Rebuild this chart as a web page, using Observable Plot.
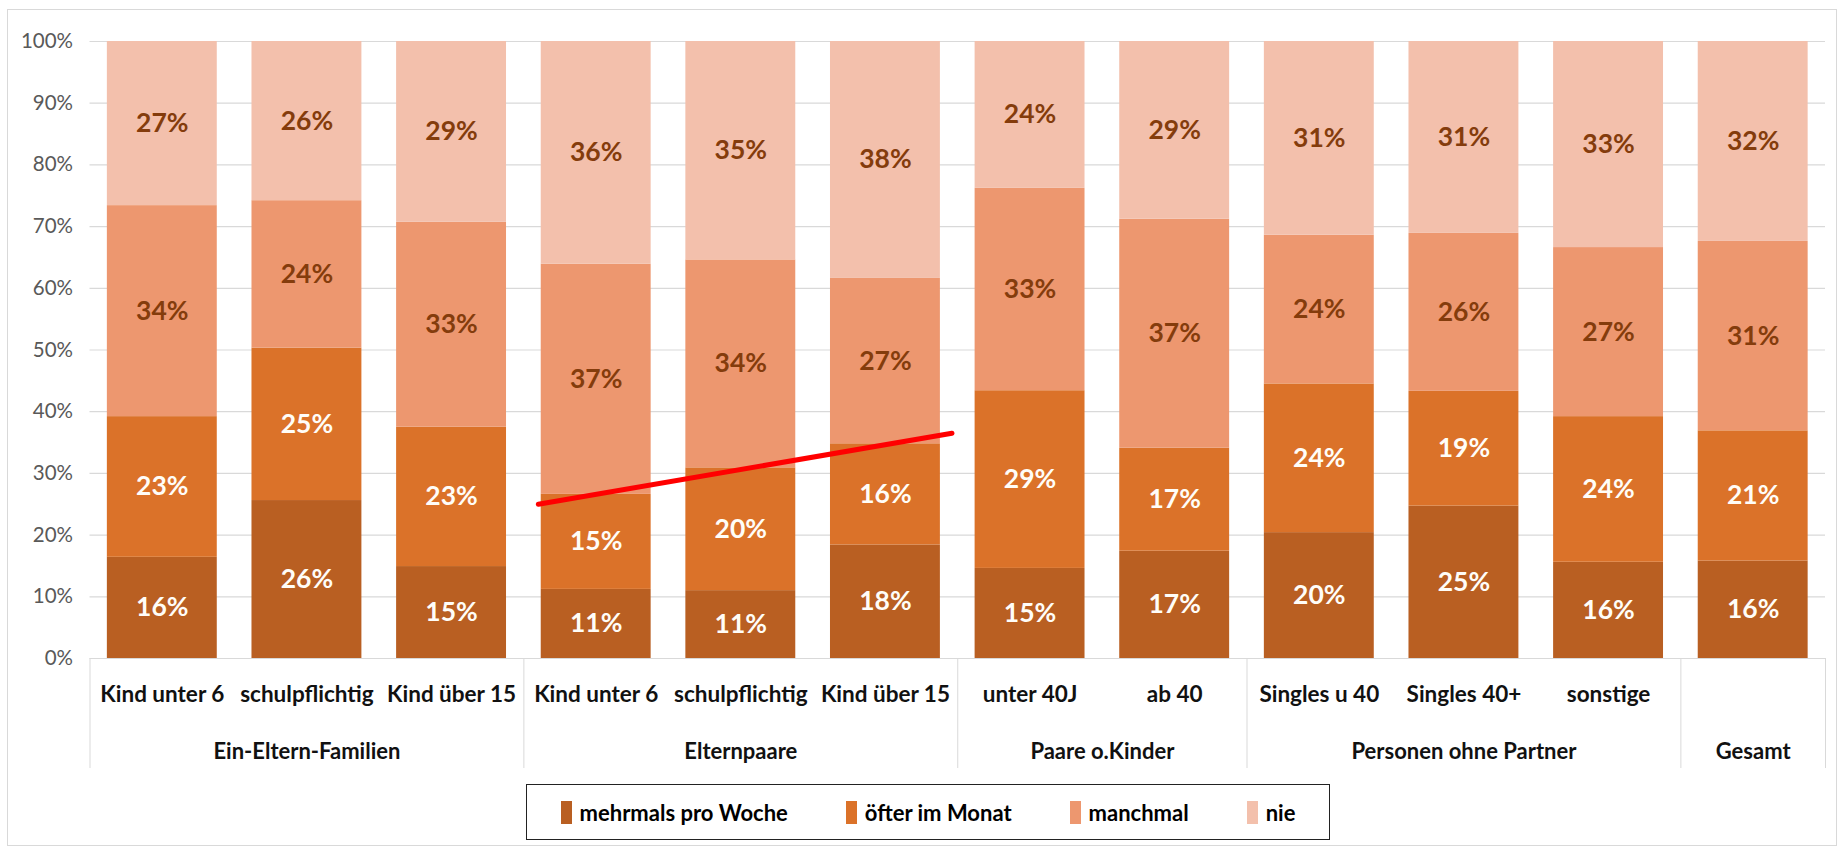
<!DOCTYPE html>
<html>
<head>
<meta charset="utf-8">
<script src="https://cdn.jsdelivr.net/npm/d3@7"></script>
<script src="https://cdn.jsdelivr.net/npm/@observablehq/plot@0.6"></script>
<style>
  body { margin: 0; background: #fff; font-family: Lato, "Open Sans", sans-serif; }
  #frame { position: absolute; left: 7px; top: 9px; width: 1830px; height: 837px; border: 1px solid #d9d9d9; box-sizing: border-box; }
  #chart { position: absolute; left: 0; top: 0; }
  #legend { position: absolute; left: 526px; top: 784px; width: 804px; height: 56px; border: 1.5px solid #222; box-sizing: border-box;
            display: flex; align-items: center; justify-content: center; gap: 0; font-size: 22px; font-weight: 700; color: #000; }
  .item { display: flex; align-items: center; margin: 0 29px; }
  .sw { width: 11px; height: 23px; margin-right: 8px; }
</style>
</head>
<body>
<div id="frame"></div>
<div id="chart"></div>
<div id="legend"></div>
<script>
// ---- data ----
const groups = ["Ein-Eltern-Familien", "Elternpaare", "Paare o.Kinder", "Personen ohne Partner", "Gesamt"];
const categories = ["Kind unter 6", "schulpflichtig", "Kind über 15", "Kind unter 6", "schulpflichtig", "Kind über 15",
                    "unter 40J", "ab 40", "Singles u 40", "Singles 40+", "sonstige", ""];
const categoryGroup = [0, 0, 0, 1, 1, 1, 2, 2, 3, 3, 3, 4];
const series = ["mehrmals pro Woche", "öfter im Monat", "manchmal", "nie"];
const mehrmals = [16.4, 25.6, 14.9, 11.2, 11.0, 18.4, 14.6, 17.4, 20.4, 24.7, 15.6, 15.8];
const oefter   = [22.8, 24.7, 22.6, 15.4, 19.9, 16.4, 28.8, 16.7, 24.1, 18.6, 23.6, 21.1];
const manchmal = [34.2, 23.9, 33.2, 37.3, 33.7, 26.8, 32.8, 37.1, 24.1, 25.6, 27.4, 30.7];
const nie      = [26.6, 25.8, 29.3, 36.1, 35.4, 38.4, 23.8, 28.8, 31.4, 31.1, 33.4, 32.4];
const yTicks = [0, 10, 20, 30, 40, 50, 60, 70, 80, 90, 100];
// red annotation line (category index position, percent)
const redLineX = [2.60, 5.46];
const redLineY = [25.0, 36.5];

// ---- styles ----
const colors = ["#b95f22", "#db7229", "#ed976f", "#f3c0ac"];
const BAR_HALF = 0.38;
const FONT = "Lato, 'Open Sans', sans-serif";

// ---- build table ----
const seriesValues = [mehrmals, oefter, manchmal, nie];
const rows = [];
categories.forEach((c, i) => {
  let acc = 0;
  seriesValues.forEach((vals, s) => {
    const v = vals[i];
    rows.push({i, s, series: series[s], value: v, y1: acc, y2: acc + v});
    acc += v;
  });
});
const catIdx = categories.map((c, i) => i);
const groupIdx = groups.map((g, k) => k);
const groupCenter = k => d3.mean(catIdx.filter(i => categoryGroup[i] === k));
const boundaries = [-0.5];
catIdx.forEach(i => { if (i === catIdx.length - 1 || categoryGroup[i + 1] !== categoryGroup[i]) boundaries.push(i + 0.5); });
const redLine = redLineX.map((x, j) => ({x, y: redLineY[j]}));

const chart = Plot.plot({
  width: 1840,
  height: 782,
  marginLeft: 89.5,
  marginRight: 15,
  marginTop: 41,
  marginBottom: 124,
  x: {domain: [-0.5, catIdx.length - 0.5]},
  y: {domain: [0, 100]},
  color: {domain: series, range: colors},
  style: {fontFamily: FONT, background: "transparent", overflow: "visible"},
  marks: [
    Plot.ruleY(yTicks, {y: d => d, stroke: "#d9d9d9", strokeWidth: 1.2}),
    Plot.rect(rows, {x1: d => d.i - BAR_HALF, x2: d => d.i + BAR_HALF, y1: "y1", y2: "y2", fill: "series"}),
    Plot.line(redLine, {x: "x", y: "y", stroke: "#ff0000", strokeWidth: 5}),
    Plot.text(rows.filter(d => d.s < 2), {x: "i", y: d => (d.y1 + d.y2) / 2, text: d => Math.round(d.value) + "%",
      fill: "#fffdf8", fontSize: 26.5, fontWeight: 700}),
    Plot.text(rows.filter(d => d.s >= 2), {x: "i", y: d => (d.y1 + d.y2) / 2, text: d => Math.round(d.value) + "%",
      fill: "#843c0c", fontSize: 26.5, fontWeight: 700}),
    Plot.axisY(yTicks, {tickFormat: d => d + "%", tickSize: 0, tickPadding: 17, fontSize: 20.5, color: "#595959", label: null}),
    Plot.axisX(boundaries, {tickSize: 110, tickFormat: () => "", color: "#d9d9d9", label: null}),
    Plot.text(catIdx, {x: d => d, text: d => categories[d], frameAnchor: "bottom", dy: 43,
      fontSize: 22.5, fontWeight: 700, fill: "#111"}),
    Plot.text(groupIdx, {x: groupCenter, text: k => groups[k], frameAnchor: "bottom", dy: 100,
      fontSize: 22, fontWeight: 700, fill: "#111"})
  ]
});
document.getElementById("chart").appendChild(chart);

// legend
const legend = document.getElementById("legend");
series.forEach((s, k) => {
  const item = document.createElement("div");
  item.className = "item";
  const sw = document.createElement("span");
  sw.className = "sw";
  sw.style.background = colors[k];
  const t = document.createElement("span");
  t.textContent = s;
  item.appendChild(sw);
  item.appendChild(t);
  legend.appendChild(item);
});
</script>
</body>
</html>
